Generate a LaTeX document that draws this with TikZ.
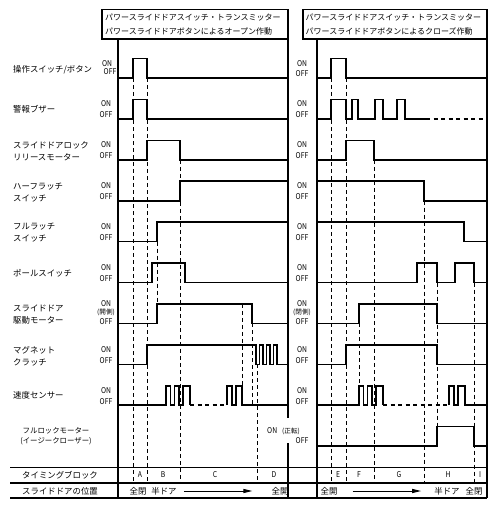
\documentclass[tikz,border=0pt]{standalone}
\usepackage{fontspec}
\newfontfamily\jp{Noto Sans CJK JP}
\newfontfamily\nar[FakeStretch=0.85]{Noto Sans CJK JP}
\usetikzlibrary{arrows.meta}
\begin{document}
\begin{tikzpicture}[x=1pt,y=-1pt,
  sig/.style={line width=1.6pt, line join=miter},
  sigdash/.style={line width=1.6pt, dash pattern=on 4pt off 3.5pt},
  guide/.style={line width=0.9pt, dash pattern=on 4pt off 3pt},
  border/.style={line width=1.5pt},
  lab/.style={anchor=west, inner sep=0pt, font=\jp\fontsize{8.4}{9}\selectfont},
  hlab/.style={anchor=west, inner sep=0pt, font=\jp\fontsize{8}{9}\selectfont},
  clab/.style={inner sep=0pt, font=\jp\fontsize{8.4}{9}\selectfont},
  smlab/.style={inner sep=0pt, font=\jp\fontsize{7.4}{8}\selectfont},
  oo/.style={inner sep=0pt, font=\nar\fontsize{8}{8}\selectfont},
  side/.style={inner sep=0pt, font=\jp\fontsize{6.6}{7}\selectfont},
  posarrow/.style={line width=1pt, -{Triangle[length=9pt,width=4pt]}}]
\useasboundingbox (0,0) rectangle (497,524);

% ---------- headers ----------
\draw[border] (102,9.5) rectangle (288,39);
\draw[border] (303,9.5) rectangle (487,39);
\node[hlab] (h1a) at (105,17.5) {パワースライドドアスイッチ・トランスミッター};
\node[hlab] (h1b) at (105,31) {パワースライドドアボタンによるオープン作動};
\node[hlab] (h2a) at (305.5,17.5) {パワースライドドアスイッチ・トランスミッター};
\node[hlab] (h2b) at (305.5,31) {パワースライドドアボタンによるクローズ作動};

% ---------- panel borders ----------
\draw[border] (118,39) -- (118,498);
\draw[border] (288,39) -- (288,418);
\draw[border] (288,443) -- (288,498);
\draw[border] (317,39) -- (317,498);
\draw[border] (487,39) -- (487,498);

% ---------- table lines ----------
\draw[line width=1pt] (10,467.5) -- (487,467.5);
\draw[line width=1.8pt] (10,483) -- (487,483);
\draw[line width=1.4pt] (10,498) -- (487,498);

% ---------- left labels ----------
\node[lab] (l1) at (13,70) {操作スイッチ/ボタン};
\node[lab] (l2) at (13,109.5) {警報ブザー};
\node[lab] (l3a) at (13,145) {スライドドアロック};
\node[lab] (l3b) at (13,157) {リリースモーター};
\node[lab] (l4a) at (13,187) {ハーフラッチ};
\node[lab] (l4b) at (13,199) {スイッチ};
\node[lab] (l5a) at (13,227) {フルラッチ};
\node[lab] (l5b) at (13,239) {スイッチ};
\node[lab] (l6) at (13,273) {ポールスイッチ};
\node[lab] (l7a) at (13,308) {スライドドア};
\node[lab] (l7b) at (13,320) {駆動モーター};
\node[lab] (l8a) at (13,350) {マグネット};
\node[lab] (l8b) at (13,362) {クラッチ};
\node[lab] (l9) at (13,395) {速度センサー};
\node[smlab] (l10a) at (56,431) {フルロックモーター};
\node[smlab] (l10b) at (56,441) {(イージークローザー)};
\node[clab] (tb) at (60,475) {タイミングブロック};
\node[clab] (tp) at (60,491) {スライドドアの位置};

% ---------- ON/OFF left ----------
\node[oo] (lon1) at (107,63.5) {ON};   \node[oo] (loff1) at (110,71.5) {OFF};
\node[oo] (lon2) at (106,103.5) {ON};  \node[oo] (loff2) at (106,114.2) {OFF};
\node[oo] (lon3) at (106,144.5) {ON};  \node[oo] (loff3) at (106,155.2) {OFF};
\node[oo] (lon4) at (106,185.5) {ON};  \node[oo] (loff4) at (106,196.2) {OFF};
\node[oo] (lon5) at (106,226.5) {ON};  \node[oo] (loff5) at (106,237.2) {OFF};
\node[oo] (lon6) at (106,267.5) {ON};  \node[oo] (loff6) at (106,278.2) {OFF};
\node[oo] (lon7) at (106,304) {ON};
\node[side] (lside7) at (106,312.5) {(開側)};
\node[oo] (loff7) at (106,322) {OFF};
\node[oo] (lon8) at (106,349.5) {ON};  \node[oo] (loff8) at (106,360.2) {OFF};
\node[oo] (lon9) at (106,390.5) {ON};  \node[oo] (loff9) at (106,401.2) {OFF};

% ---------- ON/OFF right ----------
\node[oo] (ron1) at (302,63.5) {ON};   \node[oo] (roff1) at (302,73.2) {OFF};
\node[oo] (ron2) at (302,103.5) {ON};  \node[oo] (roff2) at (302,114.2) {OFF};
\node[oo] (ron3) at (302,144.5) {ON};  \node[oo] (roff3) at (302,155.2) {OFF};
\node[oo] (ron4) at (302,185.5) {ON};  \node[oo] (roff4) at (302,196.2) {OFF};
\node[oo] (ron5) at (302,226.5) {ON};  \node[oo] (roff5) at (302,237.2) {OFF};
\node[oo] (ron6) at (302,267.5) {ON};  \node[oo] (roff6) at (302,278.2) {OFF};
\node[oo] (ron7) at (302,304) {ON};
\node[side] (rside7) at (302,312.5) {(閉側)};
\node[oo] (roff7) at (302,322) {OFF};
\node[oo] (ron8) at (302,349.5) {ON};  \node[oo] (roff8) at (302,360.2) {OFF};
\node[oo] (ron9) at (302,390.5) {ON};  \node[oo] (roff9) at (302,401.2) {OFF};
\node[oo, anchor=west] (ron10) at (267,431) {ON};
\node[side, anchor=west] (rside10) at (282,431) {(正転)};
\node[oo] (roff10) at (302,441) {OFF};

% ---------- left signals ----------
\draw[sig] (118,78) -- (133,78) -- (133,58.5) -- (147,58.5) -- (147,78) -- (288,78);
\draw[sig] (118,118.9) -- (133,118.9) -- (133,99.4) -- (147,99.4) -- (147,118.9) -- (288,118.9);
\draw[sig] (118,159.8) -- (147,159.8) -- (147,140.3) -- (180,140.3) -- (180,159.8) -- (288,159.8);
\draw[sig] (118,200.7) -- (180,200.7) -- (180,181.2) -- (288,181.2);
\draw[sig] (118,241.6) -- (157,241.6) -- (157,222.1) -- (288,222.1);
\draw[sig] (118,282.5) -- (152,282.5) -- (152,263) -- (185,263) -- (185,282.5) -- (288,282.5);
\draw[sig] (118,323.4) -- (157,323.4) -- (157,303.9) -- (252,303.9) -- (252,323.4) -- (288,323.4);
\draw[sig] (118,364.3) -- (147,364.3) -- (147,344.8) -- (256,344.8) -- (256,364.3)
  -- (259.5,364.3) -- (259.5,344.8) -- (263,344.8) -- (263,364.3)
  -- (266.5,364.3) -- (266.5,344.8) -- (270,344.8) -- (270,364.3)
  -- (273.5,364.3) -- (273.5,344.8) -- (277,344.8) -- (277,364.3) -- (288,364.3);
\draw[sig] (118,405.2) -- (166,405.2) -- (166,385.7) -- (170.5,385.7) -- (170.5,405.2)
  -- (174.5,405.2) -- (174.5,385.7) -- (179,385.7) -- (179,405.2)
  -- (183,405.2) -- (183,385.7) -- (190,385.7) -- (190,405.2);
\draw[sigdash] (190,405.2) -- (227,405.2);
\draw[sig] (227,405.2) -- (227,385.7) -- (232,385.7) -- (232,405.2) -- (236,405.2)
  -- (236,385.7) -- (242,385.7) -- (242,405.2) -- (288,405.2);

% ---------- right signals ----------
\draw[sig] (317,78) -- (331,78) -- (331,58.5) -- (346,58.5) -- (346,78) -- (487,78);
\draw[sig] (317,118.9) -- (331,118.9) -- (331,99.4) -- (346,99.4) -- (346,118.9)
  -- (352,118.9) -- (352,99.4) -- (358,99.4) -- (358,118.9)
  -- (375,118.9) -- (375,99.4) -- (383,99.4) -- (383,118.9)
  -- (397,118.9) -- (397,99.4) -- (405,99.4) -- (405,118.9) -- (426,118.9);
\draw[sigdash] (426,118.9) -- (487,118.9);
\draw[sig] (317,159.8) -- (346,159.8) -- (346,140.3) -- (374,140.3) -- (374,159.8) -- (487,159.8);
\draw[sig] (317,181.2) -- (424,181.2) -- (424,200.7) -- (487,200.7);
\draw[sig] (317,222.1) -- (464,222.1) -- (464,241.6) -- (487,241.6);
\draw[sig] (317,282.5) -- (417,282.5) -- (417,263) -- (437,263) -- (437,282.5)
  -- (455,282.5) -- (455,263) -- (474,263) -- (474,282.5) -- (487,282.5);
\draw[sig] (317,323.4) -- (359,323.4) -- (359,303.9) -- (437,303.9) -- (437,323.4) -- (487,323.4);
\draw[sig] (317,364.3) -- (346,364.3) -- (346,344.8) -- (437,344.8) -- (437,364.3) -- (487,364.3);
\draw[sig] (317,405.2) -- (359,405.2) -- (359,385.7) -- (363.5,385.7) -- (363.5,405.2)
  -- (367.5,405.2) -- (367.5,385.7) -- (372,385.7) -- (372,405.2)
  -- (376,405.2) -- (376,385.7) -- (383,385.7) -- (383,405.2);
\draw[sigdash] (383,405.2) -- (449,405.2);
\draw[sig] (449,405.2) -- (449,385.7) -- (454,385.7) -- (454,405.2) -- (458,405.2)
  -- (458,385.7) -- (465,385.7) -- (465,405.2) -- (487,405.2);
\draw[sig] (317,446.1) -- (437,446.1) -- (437,426.6) -- (474,426.6) -- (474,446.1) -- (487,446.1);

% ---------- left guide lines ----------
\draw[guide] (133,78) -- (133,483);
\draw[guide] (147,78) -- (147,483);
\draw[guide] (157,241.6) -- (157,303.9);
\draw[guide] (180,159.8) -- (180,483);
\draw[guide] (242.5,303.9) -- (242.5,385.7);
\draw[guide] (252,323.4) -- (252,405.2);
\draw[guide] (257,364.3) -- (257,483);

% ---------- right guide lines ----------
\draw[guide] (331,78) -- (331,483);
\draw[guide] (346,78) -- (346,483);
\draw[guide] (359,323.4) -- (359,385.7);
\draw[guide] (374,159.8) -- (374,483);
\draw[guide] (424,200.7) -- (424,483);
\draw[guide] (437,282.5) -- (437,426.6);
\draw[guide] (474,282.5) -- (474,483);

% ---------- timing blocks ----------
\node[oo] (ta) at (140,475) {A};
\node[oo] (tbB) at (163,475) {B};
\node[oo] (tc) at (215,475) {C};
\node[oo] (td) at (274,475) {D};
\node[oo] (te) at (338,475) {E};
\node[oo] (tf) at (359,475) {F};
\node[oo] (tg) at (399,475) {G};
\node[oo] (th) at (448,475) {H};
\node[oo] (ti) at (480,475) {I};

% ---------- door position ----------
\node[clab] (pz1) at (138,491) {全閉};
\node[clab] (ph1) at (164,491) {半ドア};
\node[clab] (po1) at (280,491) {全開};
\draw[posarrow, shorten <=7pt, shorten >=19pt] (ph1.east) -- (po1.west);
\node[clab] (po2) at (329,491) {全開};
\node[clab] (ph2) at (447,491) {半ドア};
\node[clab] (pz2) at (474,491) {全閉};
\draw[posarrow, shorten <=15pt, shorten >=13pt] (po2.east) -- (ph2.west);
\end{tikzpicture}
\end{document}
